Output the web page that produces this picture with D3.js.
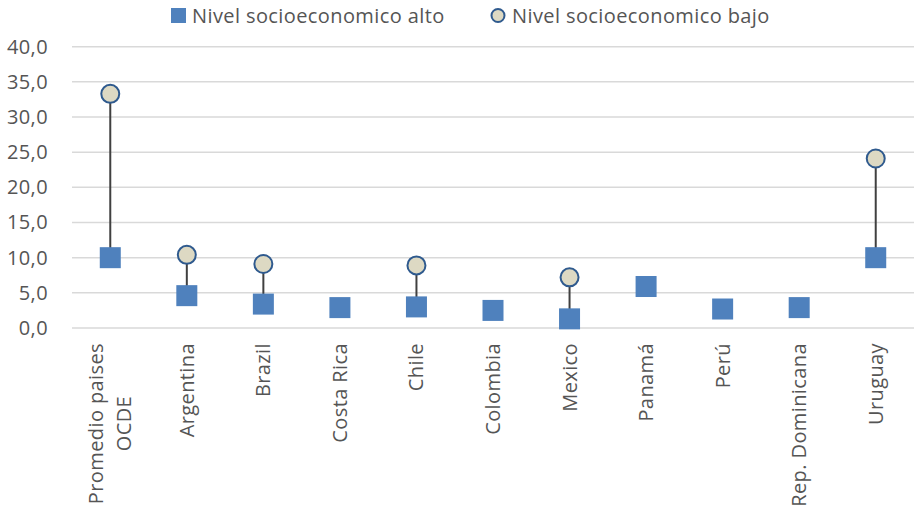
<!DOCTYPE html>
<html>
<head>
<meta charset="utf-8">
<script src="https://cdn.jsdelivr.net/npm/d3@7"></script>
<style>
  html, body { margin: 0; padding: 0; background: #fff; }
  svg { display: block; }
  text { font-family: "Open Sans", "Noto Sans", sans-serif; fill: #555555; letter-spacing: 0.4px; }
</style>
</head>
<body>
<svg id="chart" width="914" height="512"></svg>
<script>
const categories = ["Promedio paises OCDE", "Argentina", "Brazil", "Costa Rica", "Chile", "Colombia", "Mexico", "Panamá", "Perú", "Rep. Dominicana", "Uruguay"];
const altoValues = [10.0, 4.6, 3.4, 2.9, 3.0, 2.5, 1.3, 5.9, 2.7, 2.9, 10.0];
const bajoValues = [33.3, 10.4, 9.1, null, 8.9, null, 7.2, null, null, null, 24.1];
const yTicks = [0, 5, 10, 15, 20, 25, 30, 35, 40];
const seriesNames = ["Nivel socioeconomico alto", "Nivel socioeconomico bajo"];

const svg = d3.select("#chart");
const plotBottom = 328;

const x = d3.scaleBand().domain(categories).range([72, 914]).paddingInner(0).paddingOuter(0);
const y = d3.scaleLinear().domain([0, 40]).range([plotBottom, 46.7]);
const fmt = v => d3.format(".1f")(v).replace(".", ",");

// gridlines
svg.append("g").selectAll("line").data(yTicks).join("line")
  .attr("x1", 72).attr("x2", 914)
  .attr("y1", d => y(d)).attr("y2", d => y(d))
  .attr("stroke", "#D9D9D9").attr("stroke-width", 1.5);

// y axis
const yAxis = d3.axisLeft(y).tickValues(yTicks).tickFormat(fmt).tickSize(0).tickPadding(0);
const gy = svg.append("g").attr("transform", "translate(48,0)").call(yAxis);
gy.select(".domain").remove();
gy.selectAll("text").attr("font-size", 20).style("fill", "#555555")
  .attr("font-family", "'Open Sans', sans-serif");

// x axis (no line, labels drawn rotated & wrapped below)
const xAxis = d3.axisBottom(x).tickSize(0).tickFormat("");
const gx = svg.append("g").attr("transform", `translate(0,${plotBottom})`).call(xAxis);
gx.select(".domain").remove();

const labelTop = 343;
const lineH = 28;
const maxWrap = 170;
const labG = svg.append("g");
categories.forEach(cat => {
  const cx = x(cat) + x.bandwidth() / 2;
  const g = labG.append("g").attr("transform", `translate(${cx},${labelTop}) rotate(-90)`);
  const words = cat.split(" ");
  const lines = [];
  let cur = [];
  const probe = g.append("text").attr("font-size", 20);
  words.forEach(w => {
    const trial = cur.concat([w]).join(" ");
    probe.text(trial);
    if (probe.node().getComputedTextLength() > maxWrap && cur.length) {
      lines.push(cur.join(" "));
      cur = [w];
    } else cur.push(w);
  });
  if (cur.length) lines.push(cur.join(" "));
  const lens = lines.map(l => { probe.text(l); return probe.node().getComputedTextLength(); });
  probe.remove();
  const maxL = d3.max(lens);
  const n = lines.length;
  lines.forEach((l, i) => {
    g.append("text")
      .attr("font-size", 20)
      .attr("text-anchor", "middle")
      .attr("x", -maxL / 2)
      .attr("y", (i - (n - 1) / 2) * lineH)
      .attr("dy", "0.35em")
      .text(l);
  });
});

// connectors
const pairs = categories.map((c, i) => ({ c, alto: altoValues[i], bajo: bajoValues[i] }));
svg.append("g").selectAll("line").data(pairs.filter(d => d.bajo != null)).join("line")
  .attr("x1", d => x(d.c) + x.bandwidth() / 2).attr("x2", d => x(d.c) + x.bandwidth() / 2)
  .attr("y1", d => y(d.alto)).attr("y2", d => y(d.bajo))
  .attr("stroke", "#404040").attr("stroke-width", 2);

// squares (alto)
const sq = 21;
svg.append("g").selectAll("rect").data(pairs).join("rect")
  .attr("x", d => x(d.c) + x.bandwidth() / 2 - sq / 2)
  .attr("y", d => y(d.alto) - sq / 2)
  .attr("width", sq).attr("height", sq)
  .attr("fill", "#4F81BD");

// circles (bajo)
svg.append("g").selectAll("circle").data(pairs.filter(d => d.bajo != null)).join("circle")
  .attr("cx", d => x(d.c) + x.bandwidth() / 2)
  .attr("cy", d => y(d.bajo))
  .attr("r", 9)
  .attr("fill", "#DDD9C3")
  .attr("stroke", "#2F5A8E").attr("stroke-width", 2);

// legend
const lg = svg.append("g");
lg.append("rect").attr("x", 171).attr("y", 8).attr("width", 15).attr("height", 15).attr("fill", "#4F81BD");
lg.append("text").attr("x", 192).attr("y", 22.5).attr("font-size", 20).text(seriesNames[0]);
lg.append("circle").attr("cx", 498).attr("cy", 15.5).attr("r", 6.5)
  .attr("fill", "#DDD9C3").attr("stroke", "#2F5A8E").attr("stroke-width", 2);
lg.append("text").attr("x", 512).attr("y", 22.5).attr("font-size", 20).text(seriesNames[1]);
</script>
</body>
</html>
